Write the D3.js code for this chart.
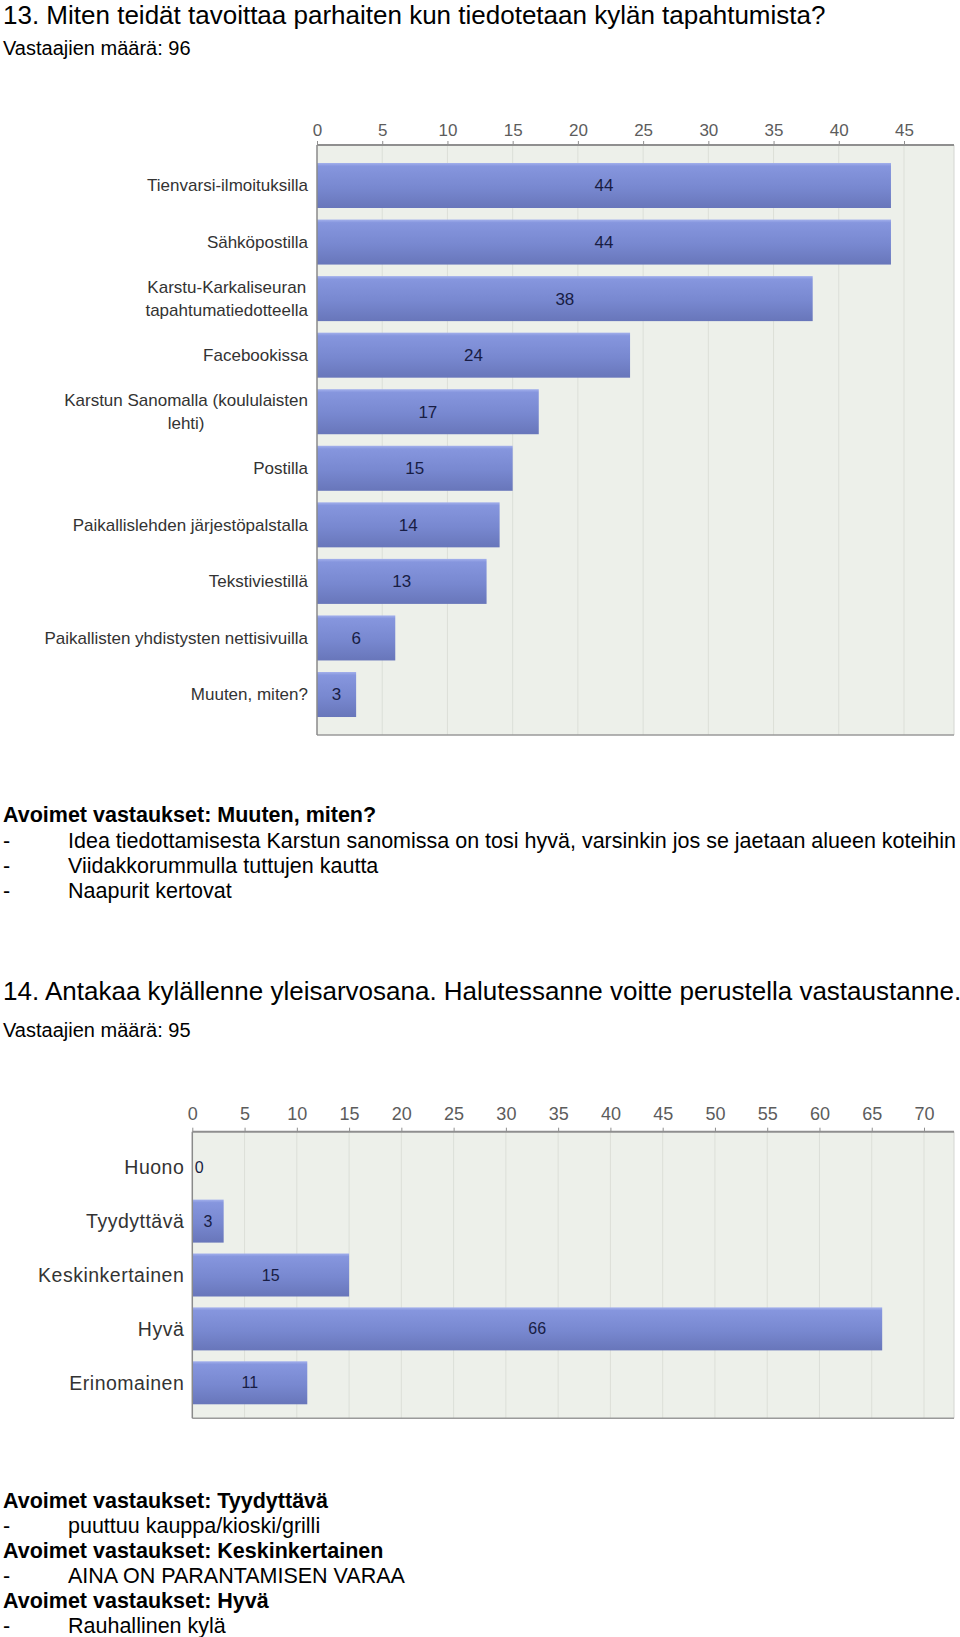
<!DOCTYPE html>
<html>
<head>
<meta charset="utf-8">
<script src="https://cdn.jsdelivr.net/npm/d3@7"></script>
<style>
body { margin: 0; background: #fff; }
svg text { font-family: "Liberation Sans", Arial, sans-serif; }
</style>
</head>
<body>
<div id="page"></div>
<script>
// ---- question 13
var q13Title = '13. Miten teidät tavoittaa parhaiten kun tiedotetaan kylän tapahtumista?';
var q13Respondents = 'Vastaajien määrä: 96';
var q13Categories = [
    'Tienvarsi-ilmoituksilla',
    'Sähköpostilla',
    'Karstu-Karkaliseuran\ntapahtumatiedotteella',
    'Facebookissa',
    'Karstun Sanomalla (koululaisten\nlehti)',
    'Postilla',
    'Paikallislehden järjestöpalstalla',
    'Tekstiviestillä',
    'Paikallisten yhdistysten nettisivuilla',
    'Muuten, miten?'
];
var q13Values = [44, 44, 38, 24, 17, 15, 14, 13, 6, 3];
var q13Ticks = [0, 5, 10, 15, 20, 25, 30, 35, 40, 45];
var q13OpenHeader = 'Avoimet vastaukset: Muuten, miten?';
var q13OpenAnswers = [
    'Idea tiedottamisesta Karstun sanomissa on tosi hyvä, varsinkin jos se jaetaan alueen koteihin',
    'Viidakkorummulla tuttujen kautta',
    'Naapurit kertovat'
];

// ---- question 14
var q14Title = '14. Antakaa kylällenne yleisarvosana. Halutessanne voitte perustella vastaustanne.';
var q14Respondents = 'Vastaajien määrä: 95';
var q14Categories = ['Huono', 'Tyydyttävä', 'Keskinkertainen', 'Hyvä', 'Erinomainen'];
var q14Values = [0, 3, 15, 66, 11];
var q14Ticks = [0, 5, 10, 15, 20, 25, 30, 35, 40, 45, 50, 55, 60, 65, 70];
var q14OpenBlocks = [
    {header: 'Avoimet vastaukset: Tyydyttävä', answer: 'puuttuu kauppa/kioski/grilli'},
    {header: 'Avoimet vastaukset: Keskinkertainen', answer: 'AINA ON PARANTAMISEN VARAA'},
    {header: 'Avoimet vastaukset: Hyvä', answer: 'Rauhallinen kylä'}
];


var svg = d3.select('#page').append('svg')
    .attr('width', 960)
    .attr('height', 1637);

var defs = svg.append('defs');
var grad = defs.append('linearGradient')
    .attr('id', 'barGrad')
    .attr('x1', 0).attr('y1', 0).attr('x2', 0).attr('y2', 1);
grad.append('stop').attr('offset', '0%').attr('stop-color', '#a3b0ec');
grad.append('stop').attr('offset', '7%').attr('stop-color', '#8696de');
grad.append('stop').attr('offset', '55%').attr('stop-color', '#7888d0');
grad.append('stop').attr('offset', '100%').attr('stop-color', '#6876ba');

function heading(txt, y, size) {
    svg.append('text')
        .attr('x', 3)
        .attr('y', y)
        .style('font-size', size + 'px')
        .style('fill', '#000')
        .text(txt);
}

function openLine(header, y, bold) {
    var t = svg.append('text')
        .attr('y', y)
        .style('font-size', '21.5px')
        .style('fill', '#000');
    if (bold) {
        t.attr('x', 3).style('font-weight', 'bold').text(header);
    } else {
        svg.append('text').attr('x', 3).attr('y', y)
            .style('font-size', '21.5px').text('-');
        t.attr('x', 68).text(header);
    }
}

function drawBars(cfg) {
    var x = d3.scaleLinear()
        .domain([0, cfg.ticks[cfg.ticks.length - 1]])
        .range([cfg.left, cfg.tickEnd]);
    var y = d3.scaleBand()
        .domain(cfg.categories)
        .range([cfg.top, cfg.bottom])
        .paddingInner(cfg.padIn)
        .paddingOuter(cfg.padOut);

    var g = svg.append('g');

    // plot background
    g.append('rect')
        .attr('x', cfg.left)
        .attr('y', cfg.top)
        .attr('width', cfg.right - cfg.left)
        .attr('height', cfg.bottom - cfg.top)
        .attr('fill', '#edf0ea');

    // grid
    g.selectAll('.grid')
        .data(cfg.ticks.slice(1))
        .enter().append('line')
        .attr('x1', function (d) { return x(d); })
        .attr('x2', function (d) { return x(d); })
        .attr('y1', cfg.top)
        .attr('y2', cfg.bottom)
        .attr('stroke', '#dcdfd8')
        .attr('stroke-width', 1);

    // bars
    g.selectAll('.bar')
        .data(cfg.values)
        .enter().append('rect')
        .attr('x', x(0))
        .attr('y', function (d, i) { return y(cfg.categories[i]); })
        .attr('width', function (d) { return x(d) - x(0); })
        .attr('height', y.bandwidth())
        .attr('fill', 'url(#barGrad)');

    // value labels in the middle of each bar
    g.selectAll('.val')
        .data(cfg.values)
        .enter().append('text')
        .attr('x', function (d) { return Math.max(x(d / 2), x(0) + 7); })
        .attr('y', function (d, i) { return y(cfg.categories[i]) + y.bandwidth() / 2; })
        .attr('dy', '0.35em')
        .attr('text-anchor', 'middle')
        .style('font-size', cfg.valueSize + 'px')
        .style('fill', '#181d44')
        .text(function (d) { return d; });

    // frame
    g.append('line')
        .attr('x1', cfg.right).attr('x2', cfg.right)
        .attr('y1', cfg.top).attr('y2', cfg.bottom)
        .attr('stroke', '#d4d6d2');
    g.append('line')
        .attr('x1', cfg.left).attr('x2', cfg.right)
        .attr('y1', cfg.bottom).attr('y2', cfg.bottom)
        .attr('stroke', '#9a9a9a').attr('stroke-width', 1.5);
    g.append('line')
        .attr('x1', cfg.left).attr('x2', cfg.left)
        .attr('y1', cfg.top).attr('y2', cfg.bottom)
        .attr('stroke', '#8a8a8a').attr('stroke-width', 1.5);

    // top axis
    var axis = d3.axisTop(x)
        .tickValues(cfg.ticks)
        .tickSize(4)
        .tickSizeOuter(0)
        .tickPadding(cfg.tickPad);
    var gA = g.append('g')
        .attr('transform', 'translate(0,' + cfg.top + ')')
        .call(axis);
    gA.select('.domain')
        .attr('d', 'M' + cfg.left + ',0H' + cfg.right)
        .attr('stroke', '#8f8f8f')
        .attr('stroke-width', 2);
    gA.selectAll('.tick line').attr('stroke', '#8f8f8f');
    gA.selectAll('.tick text')
        .style('font-family', '"Liberation Sans", Arial, sans-serif')
        .style('font-size', cfg.tickSize + 'px')
        .style('fill', '#5c5c5c');

    // category labels, multi-line ones are centred as a block
    var labelRight = cfg.left - cfg.labelGap;
    cfg.categories.forEach(function (c) {
        var lines = c.split('\n');
        var cy = y(c) + y.bandwidth() / 2;
        var t = g.append('text')
            .attr('text-anchor', 'end')
            .style('font-size', cfg.labelSize + 'px')
            .style('letter-spacing', cfg.labelSpacing + 'px')
            .style('fill', '#333');
        var spans = lines.map(function (l, i) {
            return t.append('tspan')
                .attr('x', labelRight)
                .attr('y', cy + (i - (lines.length - 1) / 2) * 23)
                .attr('dy', '0.35em')
                .text(l);
        });
        if (lines.length > 1) {
            var w = d3.max(spans, function (s) { return s.node().getComputedTextLength(); });
            t.attr('text-anchor', 'middle');
            spans.forEach(function (s) { s.attr('x', labelRight - w / 2); });
        }
    });
}

// ---------- question 13
heading(q13Title, 24, 26);
heading(q13Respondents, 55, 20);

drawBars({
    categories: q13Categories,
    values: q13Values,
    ticks: q13Ticks,
    left: 317, tickEnd: 904, right: 954,
    top: 145, bottom: 735,
    padIn: 0.204, padOut: 0.318,
    labelGap: 9, labelSize: 17, labelSpacing: 0,
    tickSize: 17, tickPad: 5, valueSize: 17
});

openLine(q13OpenHeader, 822, true);
q13OpenAnswers.forEach(function (a, i) {
    openLine(a, 847.5 + i * 25, false);
});

// ---------- question 14
heading(q14Title, 1000, 26);
heading(q14Respondents, 1037, 20);

drawBars({
    categories: q14Categories,
    values: q14Values,
    ticks: q14Ticks,
    left: 192.3, tickEnd: 924, right: 954,
    top: 1131.7, bottom: 1418.3,
    padIn: 0.202, padOut: 0.26,
    labelGap: 8, labelSize: 19.5, labelSpacing: 0.5,
    tickSize: 18, tickPad: 8, valueSize: 16
});

q14OpenBlocks.forEach(function (b, i) {
    openLine(b.header, 1507.7 + i * 50, true);
    openLine(b.answer, 1533 + i * 50, false);
});
</script>
</body>
</html>
